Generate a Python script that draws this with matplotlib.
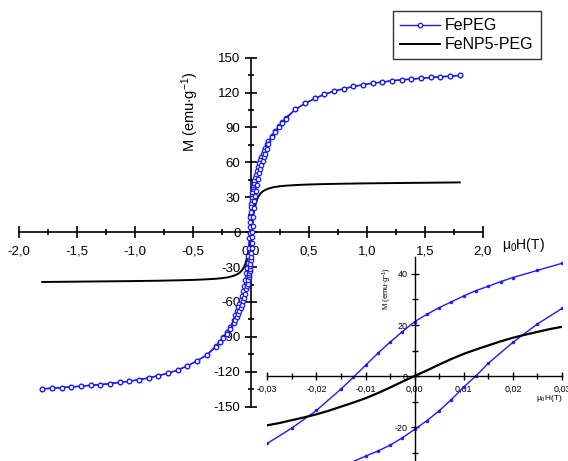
import matplotlib
matplotlib.use("Agg")
import matplotlib.pyplot as plt
from matplotlib.ticker import MultipleLocator, FuncFormatter

plt.rcParams['font.family'] = ['Liberation Sans', 'DejaVu Sans']
plt.rcParams['mathtext.fontset'] = 'custom'
plt.rcParams['mathtext.rm'] = 'Liberation Sans'
plt.rcParams['mathtext.it'] = 'Liberation Sans:italic'

# ---- FePEG: descending branch (from +1.8 T to -1.8 T) ----
fepeg_desc_H = [1.8, 1.717, 1.633, 1.55, 1.467, 1.383, 1.3, 1.217, 1.133, 1.05,
                0.967, 0.883, 0.8, 0.717, 0.633, 0.55, 0.467, 0.383, 0.3, 0.27,
                0.24, 0.21, 0.18, 0.15, 0.135, 0.12, 0.11, 0.1, 0.09, 0.08,
                0.07, 0.06, 0.05, 0.04, 0.035, 0.03, 0.025, 0.02, 0.0175, 0.015,
                0.0125, 0.01, 0.0075, 0.005, 0.0025, 0.0, -0.0025, -0.005, -0.0075, -0.01,
                -0.0125, -0.015, -0.02, -0.025, -0.03, -0.035, -0.04, -0.05, -0.06, -0.07,
                -0.08, -0.09, -0.1, -0.11, -0.12, -0.135, -0.15, -0.18, -0.21, -0.24,
                -0.27, -0.3, -0.383, -0.467, -0.55, -0.633, -0.717, -0.8, -0.883, -0.967,
                -1.05, -1.133, -1.217, -1.3, -1.383, -1.467, -1.55, -1.633, -1.717, -1.8]
fepeg_desc_M = [134.8, 134.1, 133.6, 133.0, 132.4, 131.6, 131.0, 130.2, 129.0, 128.2,
                126.7, 125.3, 123.3, 121.3, 118.5, 115.0, 110.7, 105.6, 98.5, 94.7,
                91.0, 87.3, 83.0, 78.4, 75.5, 72.5, 70.0, 67.5, 65.0, 62.3,
                59.3, 56.2, 52.8, 48.8, 46.6, 44.2, 41.4, 38.6, 37.0, 35.2,
                33.5, 31.4, 29.1, 26.8, 24.2, 21.3, 17.4, 13.3, 8.9, 4.2,
                -0.5, -5.1, -13.5, -20.4, -26.4, -31.0, -35.0, -41.0, -46.0, -50.5,
                -54.5, -58.0, -61.5, -64.5, -67.5, -71.5, -75.5, -81.5, -86.0, -90.0,
                -94.0, -97.5, -105.6, -110.7, -115.0, -118.5, -121.3, -123.3, -125.3, -126.7,
                -128.2, -129.0, -130.2, -131.0, -131.6, -132.4, -133.0, -133.6, -134.1, -134.7]

# ---- FePEG: ascending branch (from -1.8 T to +1.8 T) ----
fepeg_asc_H = [-1.8, -1.717, -1.633, -1.55, -1.467, -1.383, -1.3, -1.217, -1.133, -1.05,
               -0.967, -0.883, -0.8, -0.717, -0.633, -0.55, -0.467, -0.383, -0.3, -0.27,
               -0.24, -0.21, -0.18, -0.15, -0.135, -0.12, -0.11, -0.1, -0.09, -0.08,
               -0.07, -0.06, -0.05, -0.04, -0.035, -0.03, -0.025, -0.02, -0.0175, -0.015,
               -0.0125, -0.01, -0.0075, -0.005, -0.0025, 0.0, 0.0025, 0.005, 0.0075, 0.01,
               0.0125, 0.015, 0.02, 0.025, 0.03, 0.035, 0.04, 0.05, 0.06, 0.07,
               0.08, 0.09, 0.1, 0.11, 0.12, 0.135, 0.15, 0.18, 0.21, 0.24,
               0.27, 0.3, 0.383, 0.467, 0.55, 0.633, 0.717, 0.8, 0.883, 0.967,
               1.05, 1.133, 1.217, 1.3, 1.383, 1.467, 1.55, 1.633, 1.717, 1.8]
fepeg_asc_M = [-134.7, -134.1, -133.6, -133.0, -132.4, -131.6, -131.0, -130.2, -129.0, -128.2,
               -126.7, -125.3, -123.3, -121.3, -118.5, -115.0, -110.7, -105.6, -98.5, -94.7,
               -91.0, -87.3, -83.0, -78.4, -75.5, -72.5, -70.0, -67.5, -65.0, -62.3,
               -59.3, -56.2, -52.8, -48.8, -46.6, -44.2, -41.4, -38.6, -37.0, -35.2,
               -33.5, -31.4, -29.4, -27.1, -24.2, -20.9, -17.5, -13.6, -9.2, -4.3,
               0.1, 5.0, 13.2, 20.4, 26.5, 31.0, 35.0, 41.0, 46.0, 50.5,
               54.5, 58.0, 61.5, 64.5, 67.5, 71.5, 75.5, 81.5, 86.0, 90.0,
               94.0, 97.5, 105.6, 110.7, 115.0, 118.5, 121.3, 123.3, 125.3, 126.7,
               128.2, 129.0, 130.2, 131.0, 131.6, 132.4, 133.0, 133.6, 134.1, 134.8]

# ---- FeNP5-PEG ----
fenp_H = [-1.8, -1.5, -1.2, -1.0, -0.8, -0.6, -0.5, -0.4, -0.3, -0.25,
          -0.2, -0.15, -0.12, -0.1, -0.08, -0.06, -0.05, -0.04, -0.03, -0.0275,
          -0.025, -0.0225, -0.02, -0.0175, -0.015, -0.0125, -0.01, -0.0075, -0.005, -0.0025,
          0.0, 0.0025, 0.005, 0.0075, 0.01, 0.0125, 0.015, 0.0175, 0.02, 0.0225,
          0.025, 0.0275, 0.03, 0.04, 0.05, 0.06, 0.08, 0.1, 0.12, 0.15,
          0.2, 0.25, 0.3, 0.4, 0.5, 0.6, 0.8, 1.0, 1.2, 1.5, 1.8]
fenp_M = [-42.8, -42.5, -42.2, -42.0, -41.7, -41.3, -41.0, -40.6, -40.0, -39.5,
          -38.8, -37.5, -36.2, -35.0, -33.0, -30.0, -27.5, -24.0, -19.3, -18.4,
          -17.3, -16.2, -15.0, -13.6, -12.0, -10.4, -8.7, -6.7, -4.5, -2.2,
          0.0, 2.2, 4.5, 6.7, 8.7, 10.4, 12.0, 13.6, 15.0, 16.2,
          17.3, 18.4, 19.3, 24.0, 27.5, 30.0, 33.0, 35.0, 36.2, 37.5,
          38.8, 39.5, 40.0, 40.6, 41.0, 41.3, 41.7, 42.0, 42.2, 42.5, 42.8]

series_labels = ["FePEG", "FeNP5-PEG"]
main_xticks = [-2.0, -1.5, -1.0, -0.5, 0.0, 0.5, 1.0, 1.5, 2.0]
main_yticks = [-150, -120, -90, -60, -30, 0, 30, 60, 90, 120, 150]
inset_xticks = [-0.03, -0.02, -0.01, 0.0, 0.01, 0.02, 0.03]
inset_yticks = [-20, 0, 20, 40]

BLUE = '#1a1aff'

fig = plt.figure(figsize=(5.68, 4.61), dpi=100)
ax = fig.add_axes([19/568, 1-406.7/461, 464/568, 349/461])
ax.patch.set_visible(False)

ax.plot(fepeg_desc_H, fepeg_desc_M, color=BLUE, lw=1.0, marker='o', ms=3.2,
        mfc='white', mec=BLUE, mew=0.9, label=series_labels[0], zorder=3)
ax.plot(fepeg_asc_H, fepeg_asc_M, color=BLUE, lw=1.0, marker='o', ms=3.2,
        mfc='white', mec=BLUE, mew=0.9, zorder=3)
ax.plot(fenp_H, fenp_M, color='black', lw=1.4, label=series_labels[1], zorder=2)

ax.set_xlim(-2, 2)
ax.set_ylim(-150, 150)
for s in ['top', 'right']:
    ax.spines[s].set_visible(False)
ax.spines['left'].set_position(('data', 0))
ax.spines['bottom'].set_position(('data', 0))
for s in ['left', 'bottom']:
    ax.spines[s].set_linewidth(1.2)
ax.set_xticks(main_xticks)
ax.set_yticks(main_yticks)
ax.xaxis.set_minor_locator(MultipleLocator(0.25))
ax.yaxis.set_minor_locator(MultipleLocator(15))
ax.xaxis.set_major_formatter(FuncFormatter(lambda v, p: f"{v:.1f}".replace('.', ',').replace('-0,0', '0,0')))
ax.yaxis.set_major_formatter(FuncFormatter(lambda v, p: f"{int(round(v))}"))
ax.tick_params(which='major', direction='inout', length=9, width=1.2, labelsize=9.5, pad=3)
ax.tick_params(axis='x', which='major', pad=5)
ax.tick_params(which='minor', direction='inout', length=5, width=1.2)

fig.text(502/568, 1-245/461, r'$\mathregular{\mu_0}$H(T)', fontsize=10, ha='left', va='center')
fig.text(190/568, 1-112/461, r'M (emu$\mathregular{\cdot}$g$\mathregular{^{-1}}$)', fontsize=10.5,
         rotation=90, ha='center', va='center')

leg = ax.legend(loc='upper right', bbox_to_anchor=(541/568, 1-11/461),
                bbox_transform=fig.transFigure, fontsize=11.5, frameon=True,
                fancybox=False, edgecolor='black', handlelength=2.5,
                borderpad=0.45, labelspacing=0.25, handletextpad=0.3, borderaxespad=0)
leg.get_frame().set_linewidth(1.0)

# ---- inset ----
ia = fig.add_axes([267.3/568, 0.0, (562-267.3)/568, (461-257.4)/461])
ia.patch.set_visible(False)
ia.plot(fepeg_desc_H, fepeg_desc_M, color=BLUE, lw=1.0, marker='o', ms=2.0,
        mfc=BLUE, mec=BLUE, mew=0.5)
ia.plot(fepeg_asc_H, fepeg_asc_M, color=BLUE, lw=1.0, marker='o', ms=2.0,
        mfc=BLUE, mec=BLUE, mew=0.5)
ia.plot(fenp_H, fenp_M, color='black', lw=1.6)
ia.set_xlim(-0.03, 0.03)
ia.set_ylim(-33.3, 46.5)
for s in ['top', 'right']:
    ia.spines[s].set_visible(False)
ia.spines['left'].set_position(('data', 0))
ia.spines['bottom'].set_position(('data', 0))
for s in ['left', 'bottom']:
    ia.spines[s].set_linewidth(1.0)
ia.set_xticks(inset_xticks)
ia.set_yticks(inset_yticks)
ia.xaxis.set_minor_locator(MultipleLocator(0.005))
ia.yaxis.set_minor_locator(MultipleLocator(10))
ia.xaxis.set_major_formatter(FuncFormatter(lambda v, p: f"{v:.2f}".replace('.', ',').replace('-0,00', '0,00')))
ia.yaxis.set_major_formatter(FuncFormatter(lambda v, p: f"{int(round(v))}"))
ia.tick_params(which='major', direction='inout', length=6, width=1.0, labelsize=6.5, pad=2)
ia.tick_params(axis='x', which='major', pad=3)
ia.tick_params(which='minor', direction='inout', length=4, width=1.0)
fig.text(563/568, 1-399/461, r'$\mathregular{\mu_0}$H(T)', fontsize=6, ha='right', va='center')
fig.text(387/568, 1-289/461, r'M (emu$\mathregular{\cdot}$g$\mathregular{^{-1}}$)', fontsize=5.5,
         rotation=90, ha='center', va='center')

fig.savefig('out.png', dpi=100)
